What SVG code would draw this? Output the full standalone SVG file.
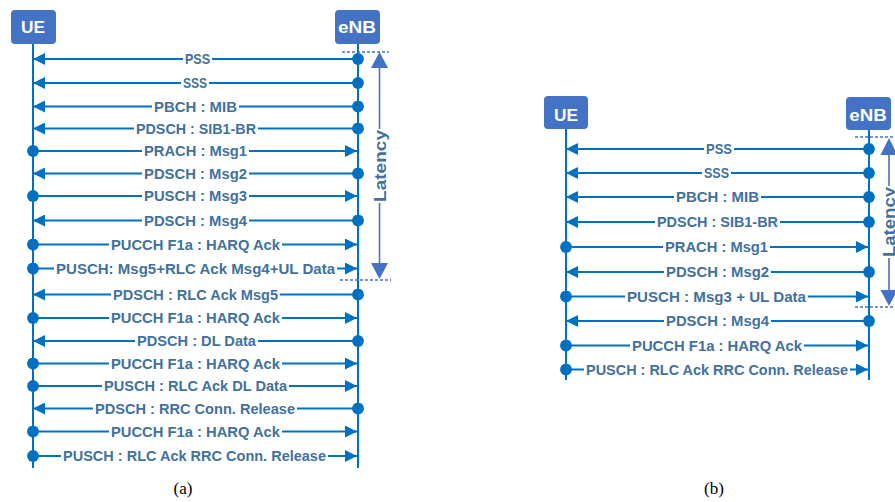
<svg xmlns="http://www.w3.org/2000/svg" width="895" height="502" viewBox="0 0 895 502">
<style>
.bg{fill:#ffffff}
.box{fill:#4472C4}
.boxt{fill:#ffffff;font-family:"Liberation Sans",Arial,sans-serif;font-weight:bold;font-size:16.5px;text-anchor:middle}
.life{stroke:#0070C0;stroke-width:2;fill:none}
.msg{stroke:#0070C0;stroke-width:2;fill:none;marker-start:url(#dot);marker-end:url(#arr)}
.lbl{fill:#41719C;font-family:"Liberation Sans",Arial,sans-serif;font-weight:bold;font-size:15px;text-anchor:middle}
.dash{stroke:#4472C4;stroke-width:1.3;stroke-dasharray:3 2;fill:none}
.lat{stroke:#4472C4;stroke-width:1.6;fill:none}
.lath{fill:#4472C4}
.latt{fill:#41719C;font-family:"Liberation Sans",Arial,sans-serif;font-weight:bold;font-size:17px;text-anchor:middle}
.cap{fill:#000000;font-family:"Liberation Serif","Times New Roman",serif;font-size:17px;text-anchor:middle}
</style>
<defs>
<marker id="arr" markerUnits="userSpaceOnUse" viewBox="0 0 12 12" markerWidth="12" markerHeight="12" refX="12" refY="6" orient="auto"><path d="M0,0 L12,6 L0,12 Z" fill="#0070C0"/></marker>
<marker id="dot" markerUnits="userSpaceOnUse" viewBox="0 0 12 12" markerWidth="12" markerHeight="12" refX="6" refY="6"><circle cx="6" cy="6" r="5.9" fill="#0070C0"/></marker>
</defs>
<rect class="bg" x="0" y="0" width="895" height="502"/>

<!-- Diagram (a) nodes -->
<g id="ue-a">
<rect class="box" x="11" y="10" width="45" height="34" rx="4"/>
<text class="boxt" x="33" y="33.3" textLength="24" lengthAdjust="spacingAndGlyphs">UE</text>
<line class="life" x1="33" y1="44" x2="33" y2="468"/>
</g>
<g id="enb-a">
<rect class="box" x="335" y="10" width="45" height="34" rx="4"/>
<text class="boxt" x="357" y="33.3" textLength="38" lengthAdjust="spacingAndGlyphs">eNB</text>
<line class="life" x1="358" y1="44" x2="358" y2="468"/>
</g>

<!-- Diagram (b) nodes -->
<g id="ue-b">
<rect class="box" x="544" y="96" width="44" height="33" rx="4"/>
<text class="boxt" x="566" y="120.5" textLength="24" lengthAdjust="spacingAndGlyphs">UE</text>
<line class="life" x1="566" y1="129" x2="566" y2="380"/>
</g>
<g id="enb-b">
<rect class="box" x="846" y="97" width="45" height="33" rx="4"/>
<text class="boxt" x="868" y="120.7" textLength="37.5" lengthAdjust="spacingAndGlyphs">eNB</text>
<line class="life" x1="869" y1="130" x2="869" y2="380"/>
</g>

<!-- Connectors (a) -->
<g id="connectors-a">
<path class="msg" d="M358 59 H212 M183 59 H33"/>
<text class="lbl" x="197.5" y="64.3" textLength="25" lengthAdjust="spacingAndGlyphs">PSS</text>
<path class="msg" d="M358 83 H209 M181 83 H33"/>
<text class="lbl" x="195" y="88.3" textLength="24" lengthAdjust="spacingAndGlyphs">SSS</text>
<path class="msg" d="M358 106.5 H239 M152 106.5 H33"/>
<text class="lbl" x="195.5" y="111.8" textLength="83" lengthAdjust="spacingAndGlyphs">PBCH : MIB</text>
<path class="msg" d="M358 128.5 H258 M134 128.5 H33"/>
<text class="lbl" x="196" y="133.8" textLength="120" lengthAdjust="spacingAndGlyphs">PDSCH : SIB1-BR</text>
<path class="msg" d="M33 151 H142 M249 151 H357"/>
<text class="lbl" x="195.5" y="156.3" textLength="103" lengthAdjust="spacingAndGlyphs">PRACH : Msg1</text>
<path class="msg" d="M358 173.5 H249 M142 173.5 H33"/>
<text class="lbl" x="195.5" y="178.8" textLength="103" lengthAdjust="spacingAndGlyphs">PDSCH : Msg2</text>
<path class="msg" d="M33 196 H142 M249 196 H357"/>
<text class="lbl" x="195.5" y="201.3" textLength="103" lengthAdjust="spacingAndGlyphs">PUSCH : Msg3</text>
<path class="msg" d="M358 220.5 H249 M142 220.5 H33"/>
<text class="lbl" x="195.5" y="225.8" textLength="103" lengthAdjust="spacingAndGlyphs">PDSCH : Msg4</text>
<path class="msg" d="M33 244.5 H109 M282 244.5 H357"/>
<text class="lbl" x="195.5" y="249.8" textLength="169" lengthAdjust="spacingAndGlyphs">PUCCH F1a : HARQ Ack</text>
<path class="msg" d="M33 268.5 H54 M337 268.5 H357"/>
<text class="lbl" x="195.5" y="273.8" textLength="279" lengthAdjust="spacingAndGlyphs">PUSCH: Msg5+RLC Ack Msg4+UL Data</text>
<path class="msg" d="M358 294.5 H280 M111 294.5 H33"/>
<text class="lbl" x="195.5" y="299.8" textLength="165" lengthAdjust="spacingAndGlyphs">PDSCH : RLC Ack Msg5</text>
<path class="msg" d="M33 318 H109 M282 318 H357"/>
<text class="lbl" x="195.5" y="323.3" textLength="169" lengthAdjust="spacingAndGlyphs">PUCCH F1a : HARQ Ack</text>
<path class="msg" d="M358 341 H258 M135 341 H33"/>
<text class="lbl" x="196.5" y="346.3" textLength="119" lengthAdjust="spacingAndGlyphs">PDSCH : DL Data</text>
<path class="msg" d="M33 363.5 H109 M282 363.5 H357"/>
<text class="lbl" x="195.5" y="368.8" textLength="169" lengthAdjust="spacingAndGlyphs">PUCCH F1a : HARQ Ack</text>
<path class="msg" d="M33 386 H102 M289 386 H357"/>
<text class="lbl" x="195.5" y="391.3" textLength="183" lengthAdjust="spacingAndGlyphs">PUSCH : RLC Ack DL Data</text>
<path class="msg" d="M358 408.5 H297 M93 408.5 H33"/>
<text class="lbl" x="195" y="413.8" textLength="200" lengthAdjust="spacingAndGlyphs">PDSCH : RRC Conn. Release</text>
<path class="msg" d="M33 431.5 H109 M282 431.5 H357"/>
<text class="lbl" x="195.5" y="436.8" textLength="169" lengthAdjust="spacingAndGlyphs">PUCCH F1a : HARQ Ack</text>
<path class="msg" d="M33 456 H61 M328 456 H357"/>
<text class="lbl" x="194.5" y="461.3" textLength="263" lengthAdjust="spacingAndGlyphs">PUSCH : RLC Ack RRC Conn. Release</text>
</g>

<!-- Connectors (b) -->
<g id="connectors-b">
<path class="msg" d="M869 149 H734 M704 149 H566"/>
<text class="lbl" x="719" y="154.3" textLength="26" lengthAdjust="spacingAndGlyphs">PSS</text>
<path class="msg" d="M869 173 H731 M702 173 H566"/>
<text class="lbl" x="716.5" y="178.3" textLength="25" lengthAdjust="spacingAndGlyphs">SSS</text>
<path class="msg" d="M869 197 H761 M674 197 H566"/>
<text class="lbl" x="717.5" y="202.3" textLength="83" lengthAdjust="spacingAndGlyphs">PBCH : MIB</text>
<path class="msg" d="M869 222 H780 M655 222 H566"/>
<text class="lbl" x="717.5" y="227.3" textLength="121" lengthAdjust="spacingAndGlyphs">PDSCH : SIB1-BR</text>
<path class="msg" d="M566 247 H663 M770 247 H868"/>
<text class="lbl" x="716.5" y="252.3" textLength="103" lengthAdjust="spacingAndGlyphs">PRACH : Msg1</text>
<path class="msg" d="M869 272 H771 M664 272 H566"/>
<text class="lbl" x="717.5" y="277.3" textLength="103" lengthAdjust="spacingAndGlyphs">PDSCH : Msg2</text>
<path class="msg" d="M566 296.5 H625 M808 296.5 H868"/>
<text class="lbl" x="716.5" y="301.8" textLength="179" lengthAdjust="spacingAndGlyphs">PUSCH : Msg3 + UL Data</text>
<path class="msg" d="M869 321 H771 M664 321 H566"/>
<text class="lbl" x="717.5" y="326.3" textLength="103" lengthAdjust="spacingAndGlyphs">PDSCH : Msg4</text>
<path class="msg" d="M566 345.5 H630 M804 345.5 H868"/>
<text class="lbl" x="717" y="350.8" textLength="170" lengthAdjust="spacingAndGlyphs">PUCCH F1a : HARQ Ack</text>
<path class="msg" d="M566 369.5 H584 M850 369.5 H868"/>
<text class="lbl" x="717" y="374.8" textLength="262" lengthAdjust="spacingAndGlyphs">PUSCH : RLC Ack RRC Conn. Release</text>
</g>

<!-- Latency (a) -->
<g id="latency-a">
<line class="dash" x1="342" y1="52" x2="389" y2="52"/>
<line class="dash" x1="340" y1="280" x2="391" y2="280"/>
<path class="lat" d="M379.5 66 V129 M379.5 203 V265"/>
<polygon class="lath" points="379.5,52 388,68 371,68"/>
<polygon class="lath" points="379.5,279 388,263 371,263"/>
<text class="latt" transform="translate(385.5,166) rotate(-90)" textLength="72" lengthAdjust="spacingAndGlyphs">Latency</text>
</g>

<!-- Latency (b) -->
<g id="latency-b">
<line class="dash" x1="855" y1="137" x2="895" y2="137"/>
<line class="dash" x1="855" y1="307" x2="895" y2="307"/>
<path class="lat" d="M889 153 V186 M889 258 V292"/>
<polygon class="lath" points="889,138 897.5,155 880.5,155"/>
<polygon class="lath" points="889,306 897.5,290 880.5,290"/>
<text class="latt" transform="translate(895,222) rotate(-90)" textLength="70" lengthAdjust="spacingAndGlyphs">Latency</text>
</g>

<text class="cap" x="183" y="494">(a)</text>
<text class="cap" x="714" y="494">(b)</text>
</svg>
